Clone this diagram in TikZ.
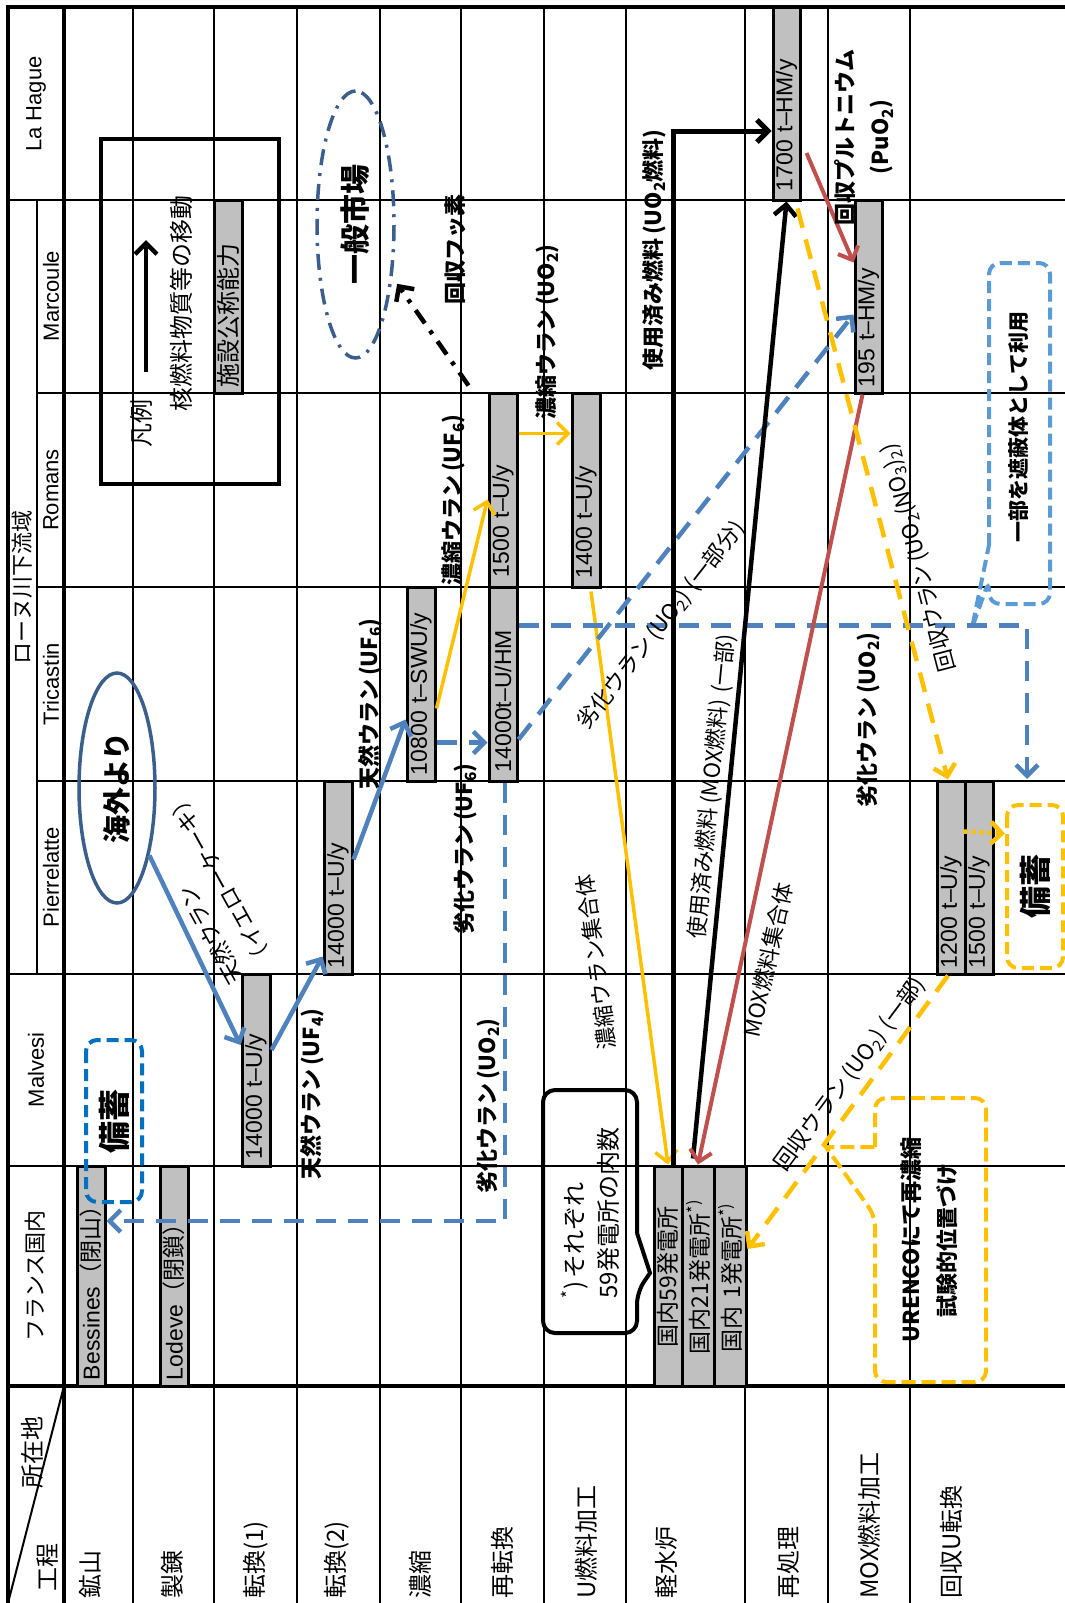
\documentclass[tikz,border=0pt]{standalone}
\usepackage{fontspec}
\setmainfont{Liberation Sans}
\newfontfamily\jp{Noto Sans CJK JP}
\usetikzlibrary{positioning,arrows.meta,shapes.geometric,calc}

\definecolor{boxgray}{HTML}{C0C0C0}
\definecolor{arrblue}{HTML}{4F81BD}
\definecolor{darkblue}{HTML}{3B5E8C}
\definecolor{arryellow}{HTML}{FFC000}
\definecolor{arrred}{HTML}{C0504D}
\definecolor{lightblue}{HTML}{5B9BD5}
\definecolor{stockblue}{HTML}{0070C0}

% narrow brackets for the flow labels
\newcommand{\lp}{\kern0.15em(}
\newcommand{\rp}{)\kern0.15em}

\begin{document}
\begin{tikzpicture}[x=1pt,y=-1pt,
    thinline/.style={line width=1.3pt},
    thickline/.style={line width=4pt},
    capbox/.style={draw, line width=3pt, fill=boxgray, rotate=90, inner sep=0pt,
        minimum height=28pt, font=\fontsize{23}{26}\selectfont, align=left},
    place/.style={rotate=90, inner sep=0pt, font=\fontsize{22}{24}\selectfont},
    jpn/.style={inner sep=0pt, font=\jp\fontsize{24}{34}\selectfont},
    lbl/.style={inner sep=0pt, font=\jp\fontsize{22}{35}\selectfont},
    lblb/.style={inner sep=0pt, font=\jp\bfseries\fontsize{22}{35}\selectfont},
    flowtip/.style={-{Straight Barb[length=11pt,width=22pt]}},
    bluearrow/.style={flowtip, arrblue, line width=4.5pt},
    bluedash/.style={bluearrow, dash pattern=on 20pt off 12pt},
    yellowarrow/.style={flowtip, arryellow, line width=3.5pt},
    yellowdash/.style={flowtip, arryellow, line width=4.5pt, dash pattern=on 20pt off 12pt},
    blackarrow/.style={flowtip, black, line width=4.5pt},
    redarrow/.style={flowtip, arrred, line width=4pt},
    stockbox/.style={rotate=90, draw, rounded corners=11pt, line width=4pt,
        dash pattern=on 12pt off 6pt, inner sep=0pt,
        font=\jp\bfseries\fontsize{32}{34}\selectfont}
]
\useasboundingbox (0,0) rectangle (1065,1603);

% Table frame and grid
\draw[thickline] (8,1603) -- (8,7) -- (1065,7);
\foreach \x in {133,214,297,380,461,544,626,745,828,910}
    \draw[thinline] (\x,7) -- (\x,1603);
\foreach \y in {200,974,1166}
    \draw[thinline] (8,\y) -- (1065,\y);
\foreach \y in {393,587,781}
    \draw[thinline] (37,\y) -- (1065,\y);
\draw[line width=2pt] (37,200) -- (37,974);
\draw[thickline] (64,7) -- (64,1603);
\draw[thickline] (8,1386) -- (1065,1386);
\draw[line width=2pt] (8,1603) -- (64,1386);

% Locations
\node[place] (locLH) at (36,104) {La Hague};
\node[place] (locMC) at (51,296) {Marcoule};
\node[place] (locRM) at (51,490) {Romans};
\node[place] (locTC) at (51,684) {Tricastin};
\node[place] (locPL) at (51,877) {Pierrelatte};
\node[place, font=\jp\fontsize{22}{24}\selectfont] (locRhone) at (22,587) {ローヌ川下流域};
\node[place] (locMV) at (36,1070) {Malvesi};
\node[place, font=\jp\fontsize{22}{24}\selectfont] (locFR) at (35,1276) {フランス国内};

% Corner and process steps
\node[jpn, rotate=90] (cornerLoc) at (32,1452) {所在地};
\node[jpn, rotate=90] (cornerProc) at (48,1567) {工程};
\foreach \x/\t [count=\i] in {90/鉱山, 172/製錬, 256/転換(1), 337/転換(2), 420/濃縮,
        502/再転換, 586/U燃料加工, 666/軽水炉, 788/再処理, 869/MOX燃料加工, 951/回収U転換}
    \node[jpn, rotate=90, anchor=west] (proc\i) at (\x,1599) {\t};

% Legend
\node[draw, line width=3.5pt, minimum width=178pt, minimum height=345pt] (legend) at (190,311.5) {};
\node[jpn, rotate=90] (legendTitle) at (141,423) {凡例};
\coordinate (legTail) at (146,372);
\coordinate (legHead) at (146,240);
\draw[blackarrow] (legTail) -- (legHead);
\node[jpn, rotate=90] (legendMove) at (181,303) {核燃料物質等の移動};
\node[capbox, minimum width=193, text width=181, font=\jp\fontsize{24}{26}\selectfont] (legendCap) at (228,296.5) {施設公称能力};

% Facility capacities
\node[capbox, minimum height=27, minimum width=192, text width=174] (cap1700) at (786.5,104) {1700 t--HM/y};
\node[capbox, minimum height=27, minimum width=193, text width=181] (cap195) at (868.5,296.5) {195 t--HM/y};
\node[capbox, minimum width=194, text width=174] (cap1500) at (503,490) {1500 t--U/y};
\node[capbox, minimum width=194, text width=176] (cap14000hm) at (503,684) {14000t--U/HM};
\node[capbox, minimum width=194, text width=176] (cap1400) at (586,490) {1400 t--U/y};
\node[capbox, minimum width=194, text width=182] (cap10800) at (421,684) {10800 t--SWU/y};
\node[capbox, minimum width=193, text width=181] (cap14000p) at (338,877.5) {14000 t--U/y};
\node[capbox, minimum width=192, text width=178] (cap14000m) at (256,1070) {14000 t--U/y};
\node[capbox, minimum width=193, text width=181] (cap1200) at (951,877.5) {1200 t--U/y};
\node[capbox, minimum width=193, text width=181] (cap1500r) at (979,877.5) {1500 t--U/y};
\node[capbox, minimum width=220, text width=208] (bessines) at (91,1276) {Bessines{\jp（閉山）}};
\node[capbox, minimum width=220, text width=208] (lodeve) at (174,1276) {Lodeve{\jp（閉鎖）}};
\node[capbox, minimum width=220, text width=142, font=\jp\fontsize{23}{26}\selectfont] (lwrA) at (668,1276) {国内59発電所};
\node[capbox, minimum height=32, minimum width=220, text width=156, font=\jp\fontsize{23}{26}\selectfont] (lwrB) at (698,1276) {国内21発電所\textsuperscript{*)}};
\node[capbox, minimum height=32, minimum width=220, text width=152, font=\jp\fontsize{23}{26}\selectfont] (lwrC) at (730,1276) {国内 1発電所\textsuperscript{*)}};

% Ellipses and stock boxes
\node[ellipse, draw=darkblue, line width=3.5pt, rotate=90, minimum width=230pt, minimum height=76pt,
    inner sep=0pt, font=\jp\bfseries\fontsize{28}{30}\selectfont] (oversea) at (117,788) {海外より};
\node[ellipse, draw=darkblue, line width=3.5pt, dash pattern=on 16pt off 8pt on 3pt off 8pt, rotate=90,
    minimum width=267pt, minimum height=77pt, inner sep=0pt,
    font=\jp\bfseries\fontsize{30}{32}\selectfont] (market) at (355.5,224.5) {一般市場};
\node[stockbox, draw=stockblue, minimum width=162pt, minimum height=56pt] (stockB) at (114,1121) {備蓄};
\node[stockbox, draw=arryellow, minimum width=163pt, minimum height=56pt] (stockY) at (1035,886.5) {備蓄};

% Callouts
\draw[lightblue, line width=4pt, dash pattern=on 12pt off 6pt, rounded corners=11pt]
    (989,545) -- (989,263) -- (1050,263) -- (1050,604) -- (989,604) -- (989,580)
    [sharp corners] -- (972,628) -- (989,545);
\node[lblb, rotate=90, font=\jp\bfseries\fontsize{21}{24}\selectfont] (shieldText) at (1019,427) {一部を遮蔽体として利用};
\draw[arryellow, line width=4pt, dash pattern=on 14pt off 6pt, rounded corners=11pt]
    (875,1147) -- (875,1098) -- (986,1098) -- (986,1382) -- (875,1382) -- (875,1216)
    [sharp corners] -- (826,1147) -- (875,1147);
\node[lblb, rotate=90, align=center, font=\jp\bfseries\fontsize{22}{36}\selectfont] (urencoText) at (929,1240) {URENCOにて再濃縮\\試験的位置づけ};
\draw[line width=4pt, rounded corners=12pt]
    (637,1233) -- (637,1090) -- (543,1090) -- (543,1333) -- (637,1333) -- (637,1292)
    [sharp corners] -- (650,1273) -- (637,1233);
\node[jpn, rotate=90, align=left] (noteText) at (590,1213) {\textsuperscript{*}\rp それぞれ\\59発電所の内数};

% Front end: ore to fuel
\draw[bluearrow] (oversea) -- ([yshift=25pt]cap14000m.north);
\draw[bluearrow] ([yshift=20pt]cap14000m.south) -- ([yshift=19pt]cap14000p.north west);
\draw[bluearrow] ([yshift=18pt]cap14000p.south) -- ([yshift=63pt]cap10800.north west);
\draw[bluedash] ([yshift=40pt]cap10800.south west) -- ([yshift=40pt]cap14000hm.north west);
\draw[yellowarrow] ([yshift=74pt]cap10800.south west) -- ([yshift=89pt]cap1500.north west);
\draw[yellowarrow] ([yshift=-42pt]cap1500.south east) -- ([yshift=-42pt]cap1400.north east);
\draw[flowtip, black, line width=4.5pt, dash pattern=on 16pt off 9pt on 4pt off 9pt, shorten >=8pt]
    ([xshift=-19pt,yshift=6pt]cap1500.north east) -- (market);
\draw[yellowarrow] ([xshift=5pt,yshift=-3pt]cap1400.west) -- (lwrA.east);

% Depleted uranium
\draw[bluedash] ([xshift=2pt]cap14000hm.west) |- ([yshift=55pt]bessines.south);
\draw[bluedash] ([yshift=-40pt]cap14000hm.south east) -| ([xshift=-8pt,yshift=24pt]stockY.east);
\draw[bluedash] ([yshift=43pt]cap14000hm.south west) -- ([yshift=-18pt]cap195.north);

% Back end
\draw[blackarrow, line width=5pt] ([xshift=5pt]lwrA.east) |- ([yshift=-27pt]cap1700.north);
\draw[blackarrow] ([xshift=-5pt,yshift=6pt]lwrB.east) -- (cap1700.west);
\draw[redarrow] ([xshift=-6pt]cap195.west) -- (lwrB.east);
\draw[redarrow] ([xshift=5pt,yshift=-49pt]cap1700.south) -- ([yshift=34pt]cap195.north);
\draw[yellowdash] ([xshift=11pt,yshift=-7pt]cap1700.west) -- ([xshift=-3pt]cap1200.east);
\draw[flowtip, arryellow, line width=4.5pt, dash pattern=on 4pt off 4pt]
    ([yshift=-52pt]cap1500r.north east) -- ([yshift=53pt]stockY.north);
\draw[yellowdash] ([xshift=-3pt]cap1200.west) -- ([yshift=27pt]lwrC.south);

% Flow labels
\node[lbl, rotate=119, align=left] (lblYellow) at (205,888) {天然ウラン\\（イエローケーキ）};
\node[lblb, rotate=90] (lblUF4) at (312,1092) {天然ウラン\lp UF\textsubscript{4}\rp};
\node[lblb, rotate=90] (lblUF6nat) at (370,702) {天然ウラン\lp UF\textsubscript{6}\rp};
\node[lblb, rotate=90] (lblUF6dep) at (465,847) {劣化ウラン\lp UF\textsubscript{6}\rp};
\node[lblb, rotate=90] (lblUF6enr) at (453,498) {濃縮ウラン\lp UF\textsubscript{6}\rp};
\node[lblb, rotate=90] (lblUO2enr) at (547,330) {濃縮ウラン\lp UO\textsubscript{2}\rp};
\node[lblb, rotate=90] (lblFluor) at (455,249) {回収フッ素};
\node[lblb, rotate=90] (lblSpent) at (654,248) {使用済み燃料\lp UO\textsubscript{2}燃料\rp};
\node[lbl, rotate=84.4] (lblSpentMox) at (712,785) {使用済み燃料\lp MOX燃料\rp\lp 一部\rp};
\node[lbl, rotate=77.9] (lblMoxAsm) at (768,960) {MOX燃料集合体};
\node[lblb, rotate=90, align=center] (lblPu) at (864,137) {回収プルトニウム\\\lp PuO\textsubscript{2}\rp};
\node[lbl, rotate=104.7] (lblRecU) at (918,556) {回収ウラン\lp UO\textsubscript{2}(NO\textsubscript{3})\textsubscript{2}\rp};
\node[lbl, rotate=53.4] (lblRecUpart) at (851,1073) {回収ウラン\lp UO\textsubscript{2}\rp\lp 一部\rp};
\node[lblb, rotate=90] (lblDepMine) at (488,1104) {劣化ウラン\lp UO\textsubscript{2}\rp};
\node[lbl, rotate=52] (lblDepPart) at (662,624) {劣化ウラン\lp UO\textsubscript{2}\rp\lp 一部分\rp};
\node[lbl, rotate=97.6] (lblEnrAsm) at (596,962) {濃縮ウラン集合体};
\node[lblb, rotate=90] (lblDepStock) at (868,718) {劣化ウラン\lp UO\textsubscript{2}\rp};
\end{tikzpicture}
\end{document}
